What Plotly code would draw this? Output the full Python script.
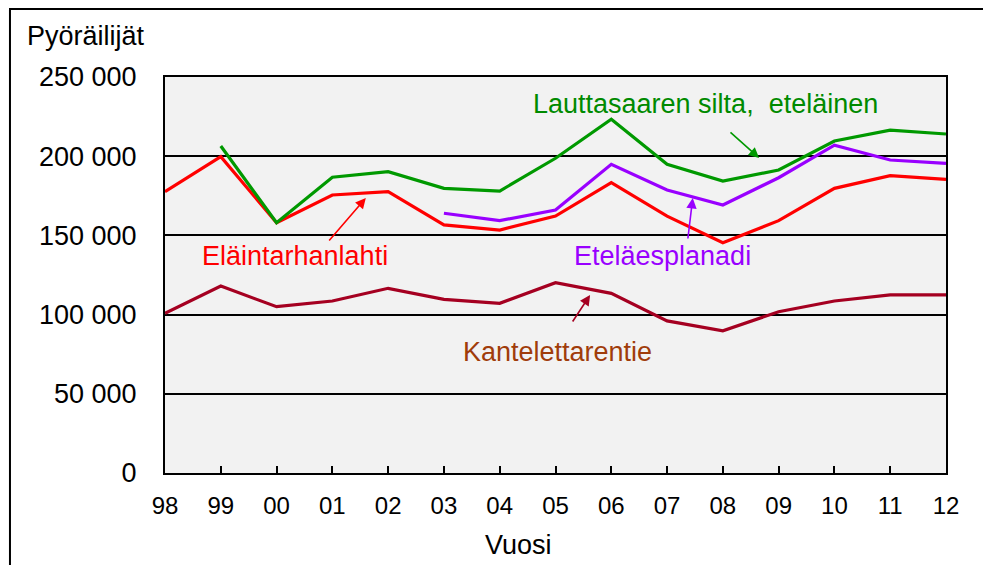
import plotly.graph_objects as go

years = ["98", "99", "00", "01", "02", "03", "04", "05", "06", "07", "08", "09", "10", "11", "12"]
x_idx = list(range(len(years)))

elaintarhanlahti = [177600, 199700, 158000, 175500, 177600, 156600, 153400, 162200, 183300,
                    162200, 145400, 159300, 179700, 187700, 185400]
lauttasaari = [None, 206400, 158000, 186700, 190200, 179700, 178000, 198700, 223300,
               194900, 184300, 191300, 209600, 216500, 214000]
etelaesplanadi = [None, None, None, None, None, 164000, 159300, 166000, 194900,
                  178700, 169200, 186400, 207000, 197600, 195500]
kantelettarentie = [100800, 118000, 105000, 108600, 116600, 109600, 107100, 120100, 113400,
                    96000, 89800, 101800, 108600, 112400, 112400]

y_ticks = [0, 50000, 100000, 150000, 200000, 250000]
y_tick_text = ["0", "50 000", "100 000", "150 000", "200 000", "250 000"]

FONT = "Liberation Sans, Arial, sans-serif"
GREEN = "#009900"
GREEN_T = "#008a00"
RED = "#ff0000"
PURPLE = "#9900ff"
CRIMSON = "#a50021"
BROWN = "#a03c0a"

fig = go.Figure()
series = [
    ("Eläintarhanlahti", elaintarhanlahti, RED),
    ("Lauttasaaren silta, eteläinen", lauttasaari, GREEN),
    ("Eteläesplanadi", etelaesplanadi, PURPLE),
    ("Kantelettarentie", kantelettarentie, CRIMSON),
]
for name, vals, col in series:
    fig.add_trace(go.Scatter(x=x_idx, y=vals, mode="lines", name=name,
                             line=dict(color=col, width=3.2), connectgaps=False,
                             hoverinfo="skip"))

# Labels
labels = [
    ("Lauttasaaren silta,  eteläinen", 9.68, 233000, GREEN_T),
    ("Eläintarhanlahti", 2.33, 137000, RED),
    ("Eteläesplanadi", 8.92, 137000, PURPLE),
    ("Kantelettarentie", 7.03, 76400, BROWN),
]
for txt, lx, ly, col in labels:
    fig.add_annotation(x=lx, y=ly, text=txt, showarrow=False, xref="x", yref="y",
                       font=dict(family=FONT, size=27, color=col))

# Arrows (head x,y ; tail ax,ay)
arrows = [
    (10.65, 198900, 10.11, 215900, GREEN),
    (3.60, 173600, 2.92, 145800, RED),
    (9.46, 173600, 9.37, 147100, PURPLE),
    (7.62, 112400, 7.29, 94700, CRIMSON),
]
for hx, hy, tx, ty, col in arrows:
    fig.add_annotation(x=hx, y=hy, ax=tx, ay=ty, xref="x", yref="y", axref="x", ayref="y",
                       text="", showarrow=True, arrowhead=2, arrowsize=1.3, arrowwidth=1.6,
                       arrowcolor=col)

fig.add_annotation(x=-0.179, y=1.1035, xref="paper", yref="paper", text="Pyöräilijät",
                   showarrow=False, xanchor="left", yanchor="middle",
                   font=dict(family=FONT, size=27, color="black"))
fig.add_annotation(x=0.453, y=-0.182, xref="paper", yref="paper", text="Vuosi",
                   showarrow=False, xanchor="center", yanchor="middle",
                   font=dict(family=FONT, size=27, color="black"))

# outer frame of the chart
fig.add_shape(type="rect", xref="paper", yref="paper", x0=-0.1985, x1=1.0525,
              y0=-0.3, y1=1.1717, line=dict(color="black", width=2), layer="above")

# page body has an 8px margin; compensate so the plot lands at the reference position
fig.update_layout(
    width=983, height=557,
    margin=dict(l=157, r=45, t=69, b=92),
    paper_bgcolor="white", plot_bgcolor="#f2f2f2",
    showlegend=False,
    font=dict(family=FONT, color="black"),
)
fig.update_xaxes(range=[0, 14], tickvals=x_idx, ticktext=years, ticks="inside", ticklen=7,
                 tickwidth=2, tickcolor="black", showline=True, linecolor="black", linewidth=2,
                 mirror=True, showgrid=False, zeroline=False, ticklabelstandoff=10,
                 tickfont=dict(family=FONT, size=24, color="black"))
fig.update_yaxes(range=[0, 250000], tickvals=y_ticks, ticktext=y_tick_text, ticks="",
                 showline=True, linecolor="black", linewidth=2, mirror=True,
                 showgrid=True, gridcolor="black", gridwidth=1.5, zeroline=False,
                 ticklabelstandoff=21, tickfont=dict(family=FONT, size=27, color="black"))

fig.write_html("out.html")
